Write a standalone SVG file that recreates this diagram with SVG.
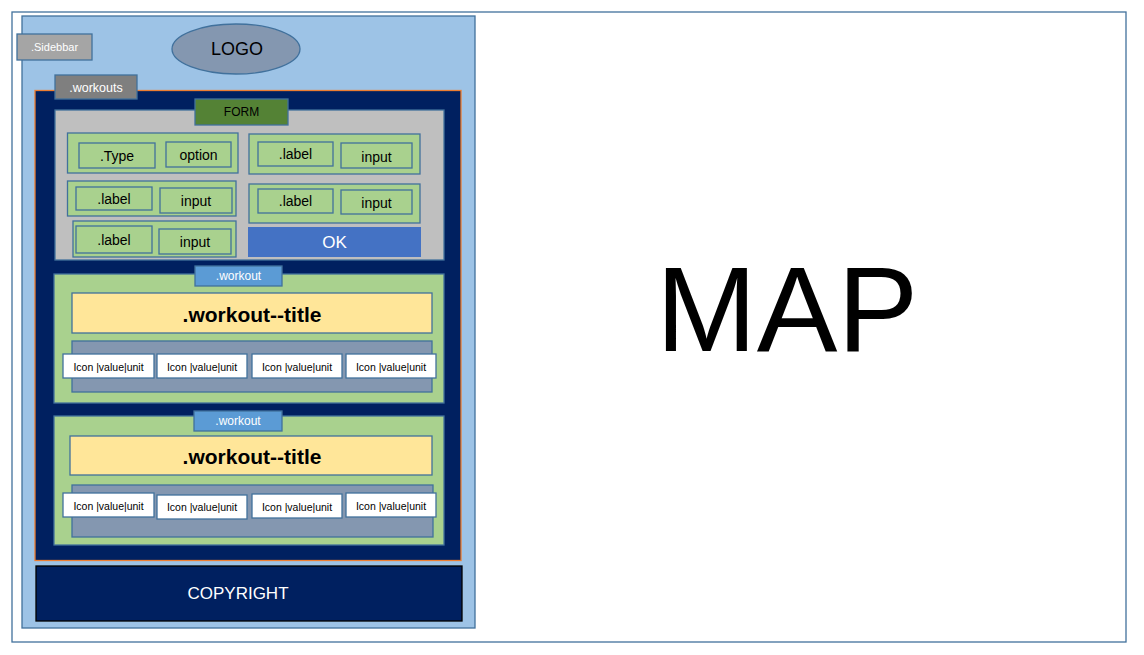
<svg xmlns="http://www.w3.org/2000/svg" width="1144" height="655" viewBox="0 0 1144 655">
<style>
text{font-family:"Liberation Sans",Arial,sans-serif;text-anchor:middle;dominant-baseline:central}
.bl{stroke:#41719C;stroke-width:1.3}
.g{fill:#A9D18E}
.w{fill:#fff}
.k{fill:#000}
.f15{font-size:14px}
.ic{fill:#fff;stroke:#41719C;stroke-width:1.3}
.it{font-size:10.5px;fill:#000}
.tt{font-size:21px;font-weight:bold;fill:#000}
</style>
<rect width="1144" height="655" fill="#fff"/>
<g id="frame"><rect x="12" y="12" width="1114" height="630" fill="#fff" class="bl"/></g>
<g id="sidebar"><rect x="22" y="16" width="453" height="612" fill="#9DC3E6" class="bl"/></g>
<g id="sidebar-label"><rect x="17" y="34" width="75" height="26" fill="#A5A5A5" class="bl"/><text x="54.5" y="47" class="w" font-size="11">.Sidebbar</text></g>
<g id="logo"><ellipse cx="236" cy="49" rx="64" ry="25" fill="#8497B0" class="bl"/><text x="237" y="49" class="k" font-size="18">LOGO</text></g>
<g id="workouts"><rect x="35" y="90.5" width="426" height="470" fill="#002060" stroke="#ED7D31" stroke-width="1.3"/></g>
<g id="workouts-label"><rect x="55" y="75" width="82" height="24" fill="#7F7F7F" class="bl"/><text x="96" y="87.5" class="w" font-size="12.5">.workouts</text></g>
<g id="form"><rect x="55" y="110" width="389" height="150" fill="#BFBFBF" class="bl"/></g>
<g id="form-label"><rect x="195" y="99" width="93" height="26" fill="#548235" class="bl"/><text x="241.5" y="112" class="k" font-size="12">FORM</text></g>
<g id="row-type"><rect x="67.5" y="133" width="170.5" height="40" class="g bl"/>
<rect x="79" y="143" width="76" height="25" class="g bl"/><text x="117" y="156" class="k f15">.Type</text>
<rect x="166" y="142" width="65" height="25" class="g bl"/><text x="198.5" y="155" class="k f15">option</text></g>
<g id="row-r1"><rect x="249" y="134" width="171" height="40" class="g bl"/>
<rect x="258" y="142" width="75" height="24" class="g bl"/><text x="295.5" y="154" class="k f15">.label</text>
<rect x="341" y="143" width="71" height="25" class="g bl"/><text x="376.5" y="157" class="k f15">input</text></g>
<g id="row-l2"><rect x="67.5" y="181" width="168.5" height="35" class="g bl"/>
<rect x="76" y="187" width="76" height="23" class="g bl"/><text x="114" y="198.5" class="k f15">.label</text>
<rect x="160" y="188" width="72" height="25" class="g bl"/><text x="196" y="201" class="k f15">input</text></g>
<g id="row-r2"><rect x="249" y="184" width="171" height="39" class="g bl"/>
<rect x="258" y="189" width="75" height="24" class="g bl"/><text x="295.5" y="201" class="k f15">.label</text>
<rect x="341" y="190" width="71" height="24" class="g bl"/><text x="376.5" y="203" class="k f15">input</text></g>
<g id="row-l3"><rect x="73" y="221" width="163" height="36" class="g bl"/>
<rect x="76" y="226" width="76" height="27" class="g bl"/><text x="114" y="239.5" class="k f15">.label</text>
<rect x="159" y="229" width="72" height="25" class="g bl"/><text x="195" y="242" class="k f15">input</text></g>
<g id="ok"><rect x="248" y="227" width="173" height="30" fill="#4472C4"/><text x="334.5" y="242" class="w" font-size="17">OK</text></g>
<g id="workout1"><rect x="54" y="274" width="390" height="129" class="g bl"/>
<rect x="72" y="293" width="360" height="40" fill="#FFE699" class="bl"/><text x="252" y="314" class="tt">.workout--title</text>
<rect x="72" y="341" width="360" height="51" fill="#8497B0" class="bl"/>
<rect x="63" y="354" width="91" height="24" class="ic"/><text x="108.5" y="366.5" class="it">Icon |value|unit</text>
<rect x="157" y="354" width="90" height="24" class="ic"/><text x="202" y="366.5" class="it">Icon |value|unit</text>
<rect x="252" y="354" width="90" height="24" class="ic"/><text x="297" y="366.5" class="it">Icon |value|unit</text>
<rect x="346" y="354" width="90" height="24" class="ic"/><text x="391" y="366.5" class="it">Icon |value|unit</text></g>
<g id="workout1-label"><rect x="195" y="266" width="87" height="20" fill="#5B9BD5" class="bl"/><text x="238.5" y="275.5" class="w" font-size="12">.workout</text></g>
<g id="workout2"><rect x="54" y="416" width="390" height="129" class="g bl"/>
<rect x="70" y="436" width="362" height="39" fill="#FFE699" class="bl"/><text x="252" y="456" class="tt">.workout--title</text>
<rect x="72" y="485" width="361" height="52" fill="#8497B0" class="bl"/>
<rect x="63" y="493" width="91" height="24" class="ic"/><text x="108.5" y="505.5" class="it">Icon |value|unit</text>
<rect x="157" y="495" width="90" height="24" class="ic"/><text x="202" y="507" class="it">Icon |value|unit</text>
<rect x="252" y="494" width="90" height="24" class="ic"/><text x="297" y="507" class="it">Icon |value|unit</text>
<rect x="346" y="493" width="90" height="24" class="ic"/><text x="391" y="505.5" class="it">Icon |value|unit</text></g>
<g id="workout2-label"><rect x="194" y="411" width="88" height="20" fill="#5B9BD5" class="bl"/><text x="238" y="420.5" class="w" font-size="12">.workout</text></g>
<g id="copyright"><rect x="36" y="566" width="426" height="55" fill="#002060" stroke="#000" stroke-width="1.3"/><text x="238" y="593" class="w" font-size="17">COPYRIGHT</text></g>
<g id="map"><text x="787" y="309" class="k" font-size="121">MAP</text></g>
<g id="connectors"></g>
</svg>
